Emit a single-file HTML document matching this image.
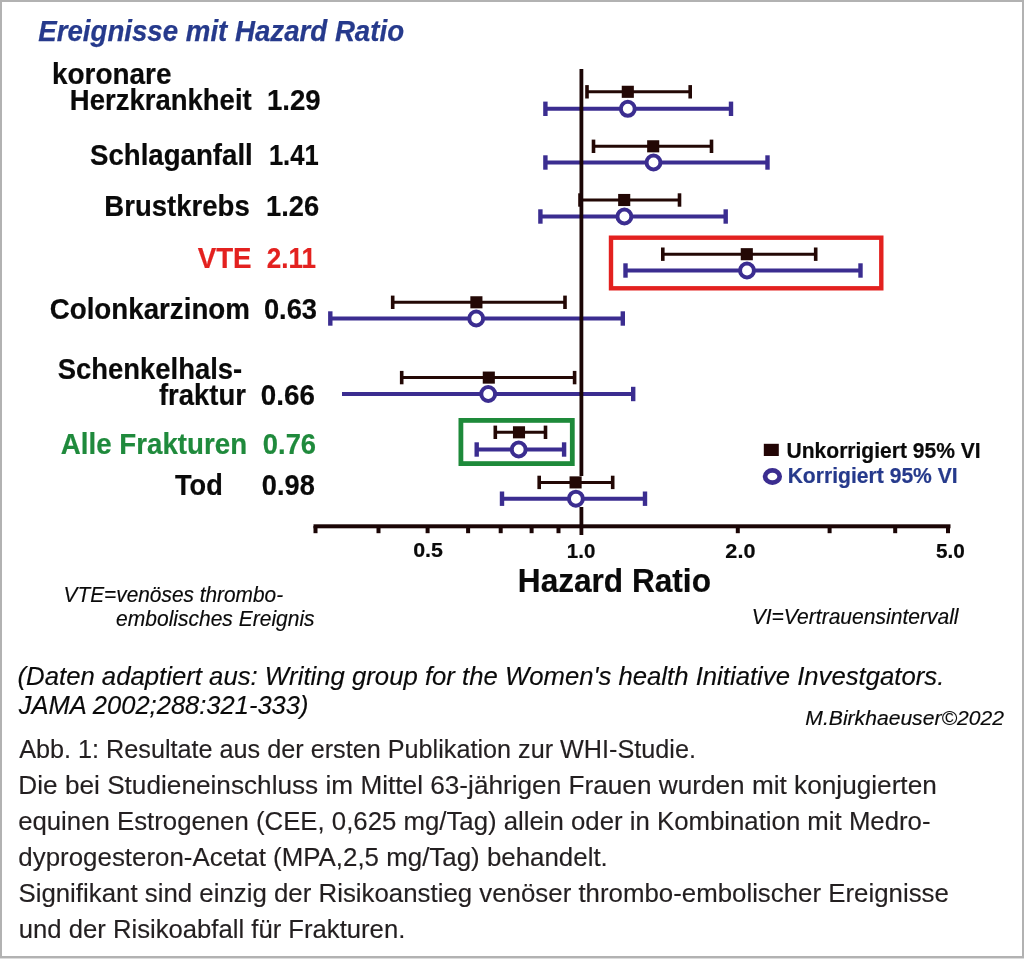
<!DOCTYPE html>
<html><head><meta charset="utf-8"><title>Ereignisse mit Hazard Ratio</title>
<style>
html,body{margin:0;padding:0;background:#fff;}
svg{display:block;will-change:transform;}
text{font-family:"Liberation Sans",Arial,sans-serif;}
</style></head><body>
<svg width="1024" height="959" viewBox="0 0 1024 959">
<rect x="0" y="0" width="1024" height="959" fill="#fff"/>
<rect x="0" y="0" width="1024" height="2" fill="#b2b2b2"/>
<rect x="0" y="0" width="2" height="959" fill="#b2b2b2"/>
<rect x="1022" y="0" width="2" height="959" fill="#b2b2b2"/>
<rect x="0" y="956" width="1024" height="2" fill="#b2b2b2"/>
<rect x="0" y="958" width="1024" height="1" fill="#dcdcdc"/>
<line x1="587" y1="91.8" x2="690.2" y2="91.8" stroke="#230805" stroke-width="3"/><rect x="585.20" y="85.10" width="3.6" height="13.4" fill="#230805"/><rect x="688.40" y="85.10" width="3.6" height="13.4" fill="#230805"/><rect x="621.75" y="85.75" width="12.1" height="12.1" fill="#230805"/>
<line x1="545.4" y1="108.8" x2="731" y2="108.8" stroke="#3b2d90" stroke-width="3.9"/><rect x="543.20" y="101.60" width="4.4" height="14.4" fill="#3b2d90"/><rect x="728.80" y="101.60" width="4.4" height="14.4" fill="#3b2d90"/><circle cx="627.8" cy="108.8" r="6.95" fill="#fff" stroke="#3b2d90" stroke-width="4.0"/>
<line x1="593.5" y1="146.3" x2="711.5" y2="146.3" stroke="#230805" stroke-width="3"/><rect x="591.70" y="139.60" width="3.6" height="13.4" fill="#230805"/><rect x="709.70" y="139.60" width="3.6" height="13.4" fill="#230805"/><rect x="647.15" y="140.25" width="12.1" height="12.1" fill="#230805"/>
<line x1="545.4" y1="162.5" x2="767.5" y2="162.5" stroke="#3b2d90" stroke-width="3.9"/><rect x="543.20" y="155.30" width="4.4" height="14.4" fill="#3b2d90"/><rect x="765.30" y="155.30" width="4.4" height="14.4" fill="#3b2d90"/><circle cx="653.5" cy="162.5" r="6.95" fill="#fff" stroke="#3b2d90" stroke-width="4.0"/>
<line x1="580" y1="200" x2="679.5" y2="200" stroke="#230805" stroke-width="3"/><rect x="578.20" y="193.30" width="3.6" height="13.4" fill="#230805"/><rect x="677.70" y="193.30" width="3.6" height="13.4" fill="#230805"/><rect x="618.15" y="193.95" width="12.1" height="12.1" fill="#230805"/>
<line x1="540.4" y1="216.5" x2="725.7" y2="216.5" stroke="#3b2d90" stroke-width="3.9"/><rect x="538.20" y="209.30" width="4.4" height="14.4" fill="#3b2d90"/><rect x="723.50" y="209.30" width="4.4" height="14.4" fill="#3b2d90"/><circle cx="624.4" cy="216.5" r="6.95" fill="#fff" stroke="#3b2d90" stroke-width="4.0"/>
<line x1="662.8" y1="254.2" x2="815.7" y2="254.2" stroke="#230805" stroke-width="3"/><rect x="661.00" y="247.50" width="3.6" height="13.4" fill="#230805"/><rect x="813.90" y="247.50" width="3.6" height="13.4" fill="#230805"/><rect x="740.75" y="248.15" width="12.1" height="12.1" fill="#230805"/>
<line x1="625.5" y1="270.5" x2="860.5" y2="270.5" stroke="#3b2d90" stroke-width="3.9"/><rect x="623.30" y="263.30" width="4.4" height="14.4" fill="#3b2d90"/><rect x="858.30" y="263.30" width="4.4" height="14.4" fill="#3b2d90"/><circle cx="747" cy="270.5" r="6.95" fill="#fff" stroke="#3b2d90" stroke-width="4.0"/>
<line x1="392.7" y1="302.3" x2="565" y2="302.3" stroke="#230805" stroke-width="3"/><rect x="390.90" y="295.60" width="3.6" height="13.4" fill="#230805"/><rect x="563.20" y="295.60" width="3.6" height="13.4" fill="#230805"/><rect x="470.35" y="296.25" width="12.1" height="12.1" fill="#230805"/>
<line x1="330.3" y1="318.5" x2="622.8" y2="318.5" stroke="#3b2d90" stroke-width="3.9"/><rect x="328.10" y="311.30" width="4.4" height="14.4" fill="#3b2d90"/><rect x="620.60" y="311.30" width="4.4" height="14.4" fill="#3b2d90"/><circle cx="476.2" cy="318.5" r="6.95" fill="#fff" stroke="#3b2d90" stroke-width="4.0"/>
<line x1="401.7" y1="377.6" x2="574.6" y2="377.6" stroke="#230805" stroke-width="3"/><rect x="399.90" y="370.90" width="3.6" height="13.4" fill="#230805"/><rect x="572.80" y="370.90" width="3.6" height="13.4" fill="#230805"/><rect x="482.75" y="371.55" width="12.1" height="12.1" fill="#230805"/>
<line x1="342" y1="394" x2="633.2" y2="394" stroke="#3b2d90" stroke-width="3.9"/><rect x="631.00" y="386.80" width="4.4" height="14.4" fill="#3b2d90"/><circle cx="488.2" cy="394" r="6.95" fill="#fff" stroke="#3b2d90" stroke-width="4.0"/>
<line x1="495.3" y1="432.3" x2="545.5" y2="432.3" stroke="#230805" stroke-width="3"/><rect x="493.50" y="425.60" width="3.6" height="13.4" fill="#230805"/><rect x="543.70" y="425.60" width="3.6" height="13.4" fill="#230805"/><rect x="512.95" y="426.25" width="12.1" height="12.1" fill="#230805"/>
<line x1="476.7" y1="449.5" x2="564.1" y2="449.5" stroke="#3b2d90" stroke-width="3.9"/><rect x="474.50" y="442.30" width="4.4" height="14.4" fill="#3b2d90"/><rect x="561.90" y="442.30" width="4.4" height="14.4" fill="#3b2d90"/><circle cx="518.7" cy="449.5" r="6.95" fill="#fff" stroke="#3b2d90" stroke-width="4.0"/>
<rect x="579.5" y="69" width="3.8" height="466" fill="#1a0505"/>
<rect x="313.5" y="524.3" width="637" height="4" fill="#1a0505"/>
<rect x="313.50" y="526" width="4" height="7.2" fill="#1a0505"/>
<rect x="376.50" y="526" width="4" height="7.2" fill="#1a0505"/>
<rect x="425.60" y="526" width="4" height="7.2" fill="#1a0505"/>
<rect x="466.10" y="526" width="4" height="7.2" fill="#1a0505"/>
<rect x="498.70" y="526" width="4" height="7.2" fill="#1a0505"/>
<rect x="529.60" y="526" width="4" height="7.2" fill="#1a0505"/>
<rect x="556.50" y="526" width="4" height="7.2" fill="#1a0505"/>
<rect x="735.80" y="526" width="4" height="7.2" fill="#1a0505"/>
<rect x="827.60" y="526" width="4" height="7.2" fill="#1a0505"/>
<rect x="893.20" y="526" width="4" height="7.2" fill="#1a0505"/>
<rect x="946.00" y="526" width="4" height="7.2" fill="#1a0505"/>
<rect x="578.5" y="476" width="6" height="31" fill="#fff"/>
<line x1="539.2" y1="482.4" x2="612.7" y2="482.4" stroke="#230805" stroke-width="3"/><rect x="537.40" y="475.70" width="3.6" height="13.4" fill="#230805"/><rect x="610.90" y="475.70" width="3.6" height="13.4" fill="#230805"/><rect x="569.55" y="476.35" width="12.1" height="12.1" fill="#230805"/>
<line x1="502" y1="498.7" x2="645" y2="498.7" stroke="#3b2d90" stroke-width="3.9"/><rect x="499.80" y="491.50" width="4.4" height="14.4" fill="#3b2d90"/><rect x="642.80" y="491.50" width="4.4" height="14.4" fill="#3b2d90"/><circle cx="575.9" cy="498.7" r="6.95" fill="#fff" stroke="#3b2d90" stroke-width="4.0"/>
<rect x="611" y="237.7" width="270.3" height="50.6" fill="none" stroke="#e3211f" stroke-width="4.4"/>
<rect x="460.9" y="420.4" width="111.4" height="43.2" fill="none" stroke="#1e8a3a" stroke-width="4.8"/>
<rect x="763.8" y="443.8" width="15" height="12.2" fill="#230505"/>
<ellipse cx="772.4" cy="476.5" rx="7.3" ry="6.1" fill="#fff" stroke="#3b2d90" stroke-width="4.7"/>
<text x="38.21" y="41.30" font-size="28.7" style="font-weight:bold;font-style:italic" fill="#263a8c" stroke="#263a8c" stroke-width="0.25" textLength="365.86" lengthAdjust="spacingAndGlyphs">Ereignisse mit Hazard Ratio</text>
<text x="52.03" y="84.00" font-size="29.3" style="font-weight:bold" fill="#0a0a0a" stroke="#0a0a0a" stroke-width="0.2" textLength="119.46" lengthAdjust="spacingAndGlyphs">koronare</text>
<text x="69.84" y="110.40" font-size="29.3" style="font-weight:bold" fill="#0a0a0a" stroke="#0a0a0a" stroke-width="0.2" textLength="181.87" lengthAdjust="spacingAndGlyphs">Herzkrankheit</text>
<text x="266.99" y="110.40" font-size="29.3" style="font-weight:bold" fill="#0a0a0a" stroke="#0a0a0a" stroke-width="0.2" textLength="53.74" lengthAdjust="spacingAndGlyphs">1.29</text>
<text x="89.96" y="164.80" font-size="29.3" style="font-weight:bold" fill="#0a0a0a" stroke="#0a0a0a" stroke-width="0.2" textLength="162.80" lengthAdjust="spacingAndGlyphs">Schlaganfall</text>
<text x="268.90" y="164.80" font-size="29.3" style="font-weight:bold" fill="#0a0a0a" stroke="#0a0a0a" stroke-width="0.2" textLength="49.74" lengthAdjust="spacingAndGlyphs">1.41</text>
<text x="104.34" y="215.50" font-size="29.3" style="font-weight:bold" fill="#0a0a0a" stroke="#0a0a0a" stroke-width="0.2" textLength="145.38" lengthAdjust="spacingAndGlyphs">Brustkrebs</text>
<text x="266.04" y="215.50" font-size="29.3" style="font-weight:bold" fill="#0a0a0a" stroke="#0a0a0a" stroke-width="0.2" textLength="53.06" lengthAdjust="spacingAndGlyphs">1.26</text>
<text x="197.69" y="268.20" font-size="29.3" style="font-weight:bold" fill="#e3211f" stroke="#e3211f" stroke-width="0.2" textLength="53.91" lengthAdjust="spacingAndGlyphs">VTE</text>
<text x="266.73" y="268.20" font-size="29.3" style="font-weight:bold" fill="#e3211f" stroke="#e3211f" stroke-width="0.2" textLength="49.26" lengthAdjust="spacingAndGlyphs">2.11</text>
<text x="49.70" y="319.20" font-size="29.3" style="font-weight:bold" fill="#0a0a0a" stroke="#0a0a0a" stroke-width="0.2" textLength="200.25" lengthAdjust="spacingAndGlyphs">Colonkarzinom</text>
<text x="263.91" y="319.20" font-size="29.3" style="font-weight:bold" fill="#0a0a0a" stroke="#0a0a0a" stroke-width="0.2" textLength="53.14" lengthAdjust="spacingAndGlyphs">0.63</text>
<text x="57.74" y="378.70" font-size="29.3" style="font-weight:bold" fill="#0a0a0a" stroke="#0a0a0a" stroke-width="0.2" textLength="184.52" lengthAdjust="spacingAndGlyphs">Schenkelhals-</text>
<text x="158.97" y="404.70" font-size="29.3" style="font-weight:bold" fill="#0a0a0a" stroke="#0a0a0a" stroke-width="0.2" textLength="87.00" lengthAdjust="spacingAndGlyphs">fraktur</text>
<text x="260.87" y="404.70" font-size="29.3" style="font-weight:bold" fill="#0a0a0a" stroke="#0a0a0a" stroke-width="0.2" textLength="54.02" lengthAdjust="spacingAndGlyphs">0.66</text>
<text x="60.83" y="454.30" font-size="29.3" style="font-weight:bold" fill="#1f8a3c" stroke="#1f8a3c" stroke-width="0.2" textLength="186.22" lengthAdjust="spacingAndGlyphs">Alle Frakturen</text>
<text x="262.84" y="454.30" font-size="29.3" style="font-weight:bold" fill="#1f8a3c" stroke="#1f8a3c" stroke-width="0.2" textLength="53.22" lengthAdjust="spacingAndGlyphs">0.76</text>
<text x="175.02" y="494.70" font-size="29.3" style="font-weight:bold" fill="#0a0a0a" stroke="#0a0a0a" stroke-width="0.2" textLength="47.72" lengthAdjust="spacingAndGlyphs">Tod</text>
<text x="261.83" y="494.70" font-size="29.3" style="font-weight:bold" fill="#0a0a0a" stroke="#0a0a0a" stroke-width="0.2" textLength="52.93" lengthAdjust="spacingAndGlyphs">0.98</text>
<text x="786.50" y="457.60" font-size="21.7" style="font-weight:bold" fill="#0a0a0a" stroke="#0a0a0a" stroke-width="0.2" textLength="194.21" lengthAdjust="spacingAndGlyphs">Unkorrigiert 95% VI</text>
<text x="787.64" y="483.00" font-size="21.7" style="font-weight:bold" fill="#263a8c" stroke="#263a8c" stroke-width="0.2" textLength="170.07" lengthAdjust="spacingAndGlyphs">Korrigiert 95% VI</text>
<text x="413.16" y="557.00" font-size="21" style="font-weight:bold" fill="#0a0a0a" stroke="#0a0a0a" stroke-width="0.2" textLength="29.78" lengthAdjust="spacingAndGlyphs">0.5</text>
<text x="566.80" y="558.00" font-size="21" style="font-weight:bold" fill="#0a0a0a" stroke="#0a0a0a" stroke-width="0.2" textLength="28.55" lengthAdjust="spacingAndGlyphs">1.0</text>
<text x="725.38" y="557.70" font-size="21" style="font-weight:bold" fill="#0a0a0a" stroke="#0a0a0a" stroke-width="0.2" textLength="30.07" lengthAdjust="spacingAndGlyphs">2.0</text>
<text x="935.90" y="557.70" font-size="21" style="font-weight:bold" fill="#0a0a0a" stroke="#0a0a0a" stroke-width="0.2" textLength="28.89" lengthAdjust="spacingAndGlyphs">5.0</text>
<text x="517.82" y="592.40" font-size="32.5" style="font-weight:bold" fill="#0a0a0a" stroke="#0a0a0a" stroke-width="0.2" textLength="193.14" lengthAdjust="spacingAndGlyphs">Hazard Ratio</text>
<text x="63.53" y="601.60" font-size="21.7" style="font-style:italic" fill="#0a0a0a" stroke="#0a0a0a" stroke-width="0.15" textLength="219.62" lengthAdjust="spacingAndGlyphs">VTE=venöses thrombo-</text>
<text x="116.08" y="626.30" font-size="21.7" style="font-style:italic" fill="#0a0a0a" stroke="#0a0a0a" stroke-width="0.15" textLength="198.51" lengthAdjust="spacingAndGlyphs">embolisches Ereignis</text>
<text x="751.63" y="623.60" font-size="21.7" style="font-style:italic" fill="#0a0a0a" stroke="#0a0a0a" stroke-width="0.15" textLength="206.91" lengthAdjust="spacingAndGlyphs">VI=Vertrauensintervall</text>
<text x="17.56" y="685.30" font-size="26.5" style="font-style:italic" fill="#0a0a0a" stroke="#0a0a0a" stroke-width="0.15" textLength="926.82" lengthAdjust="spacingAndGlyphs">(Daten adaptiert aus: Writing group for the Women&#39;s health Initiative Investgators.</text>
<text x="18.70" y="714.40" font-size="26.5" style="font-style:italic" fill="#0a0a0a" stroke="#0a0a0a" stroke-width="0.15" textLength="289.77" lengthAdjust="spacingAndGlyphs">JAMA 2002;288:321-333)</text>
<text x="805.37" y="724.70" font-size="19.5" style="font-style:italic" fill="#0a0a0a" stroke="#0a0a0a" stroke-width="0.15" textLength="198.61" lengthAdjust="spacingAndGlyphs">M.Birkhaeuser©2022</text>
<text x="19.18" y="758.20" font-size="26" style="" fill="#231f20" stroke="#231f20" stroke-width="0.15" textLength="676.78" lengthAdjust="spacingAndGlyphs">Abb. 1: Resultate aus der ersten Publikation zur WHI-Studie.</text>
<text x="18.35" y="794.20" font-size="26" style="" fill="#231f20" stroke="#231f20" stroke-width="0.15" textLength="918.42" lengthAdjust="spacingAndGlyphs">Die bei Studieneinschluss im Mittel 63-jährigen Frauen wurden mit konjugierten</text>
<text x="18.13" y="830.00" font-size="26" style="" fill="#231f20" stroke="#231f20" stroke-width="0.15" textLength="912.38" lengthAdjust="spacingAndGlyphs">equinen Estrogenen (CEE, 0,625 mg/Tag) allein oder in Kombination mit Medro-</text>
<text x="18.36" y="866.00" font-size="26" style="" fill="#231f20" stroke="#231f20" stroke-width="0.15" textLength="589.44" lengthAdjust="spacingAndGlyphs">dyprogesteron-Acetat (MPA,2,5 mg/Tag) behandelt.</text>
<text x="18.41" y="902.00" font-size="26" style="" fill="#231f20" stroke="#231f20" stroke-width="0.15" textLength="930.43" lengthAdjust="spacingAndGlyphs">Signifikant sind einzig der Risikoanstieg venöser thrombo-embolischer Ereignisse</text>
<text x="18.75" y="938.00" font-size="26" style="" fill="#231f20" stroke="#231f20" stroke-width="0.15" textLength="386.55" lengthAdjust="spacingAndGlyphs">und der Risikoabfall für Frakturen.</text>
</svg>
</body></html>
